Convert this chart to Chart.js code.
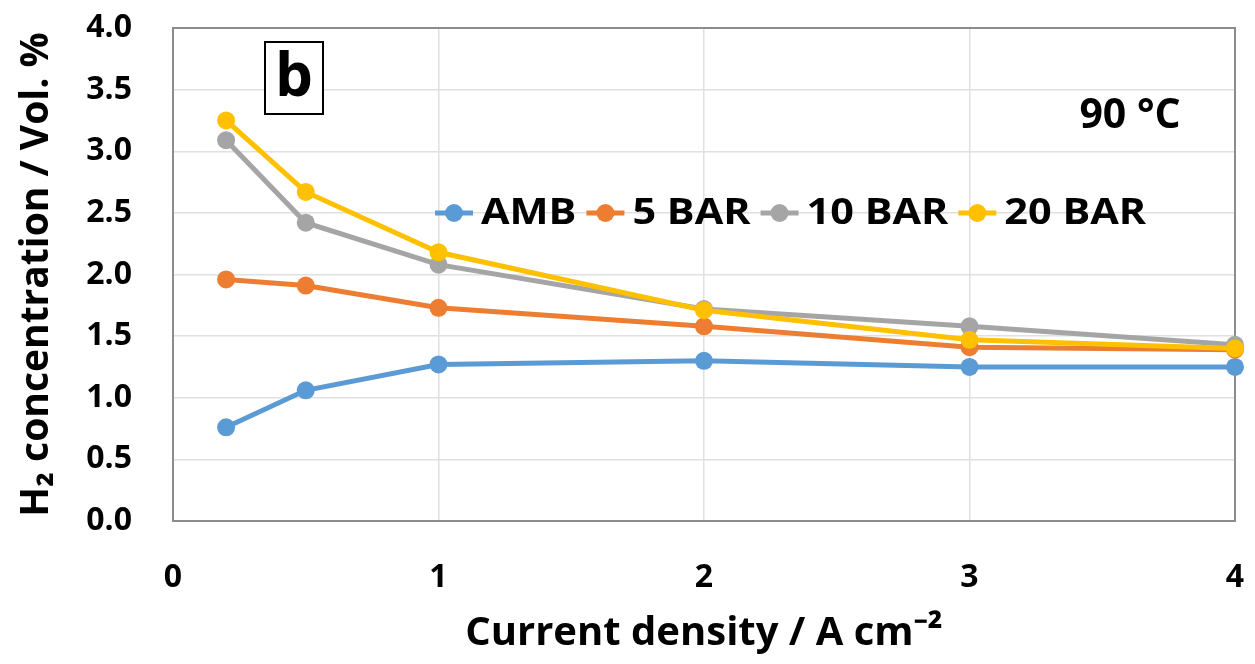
<!DOCTYPE html>
<html>
<head>
<meta charset="utf-8">
<script src="https://cdn.jsdelivr.net/npm/chart.js@4.4.0/dist/chart.umd.min.js"></script>
<style>
  html, body { margin: 0; padding: 0; background: #fff; }
  #wrap { width: 1255px; height: 664px; }
</style>
</head>
<body>
<div id="wrap"><canvas id="c" width="1255" height="664"></canvas></div>
<script>
// Current density (A cm-2) and H2 concentration (Vol. %)
const currentDensity = [0.2, 0.5, 1, 2, 3, 4];
const amb   = [0.76, 1.06, 1.27, 1.30, 1.25, 1.25];
const bar5  = [1.96, 1.91, 1.73, 1.58, 1.41, 1.39];
const bar10 = [3.09, 2.42, 2.08, 1.72, 1.58, 1.43];
const bar20 = [3.25, 2.67, 2.18, 1.71, 1.47, 1.40];
const seriesNames = ['AMB', '5 BAR', '10 BAR', '20 BAR'];
const seriesColors = ['#5B9BD5', '#ED7D31', '#A5A5A5', '#FFC000'];
const xTickValues = [0, 1, 2, 3, 4];
const yTickValues = [0, 0.5, 1, 1.5, 2, 2.5, 3, 3.5, 4];
const panelLabel = 'b';
const tempLabel = '90 °C';

const allSeries = [amb, bar5, bar10, bar20];
const datasets = allSeries.map((vals, i) => ({
    label: seriesNames[i],
    data: vals.map((v, k) => ({x: currentDensity[k], y: v})),
    borderColor: seriesColors[i],
    backgroundColor: seriesColors[i],
    pointBackgroundColor: seriesColors[i],
    pointBorderWidth: 0,
    pointRadius: 9,
    borderWidth: 5,
    order: allSeries.length - i,
    clip: false
}));

// grey frame round the plot area
const frame = {
    id: 'frame',
    beforeDatasetsDraw(chart) {
        const {ctx, chartArea: a} = chart;
        ctx.save();
        ctx.strokeStyle = '#8c8c8c';
        ctx.lineWidth = 2;
        ctx.strokeRect(a.left, a.top, a.right - a.left, a.bottom - a.top);
        ctx.restore();
    }
};

// legend inside the plot, panel letter and temperature
const notes = {
    id: 'notes',
    afterDatasetsDraw(chart) {
        const ctx = chart.ctx;
        const stretch = 1.15;
        ctx.save();
        ctx.font = 'bold 36px "Open Sans", sans-serif';
        ctx.textBaseline = 'middle';
        let x = 435;
        const y = 213;
        seriesNames.forEach((name, i) => {
            ctx.strokeStyle = seriesColors[i];
            ctx.lineWidth = 5;
            ctx.beginPath();
            ctx.moveTo(x, y);
            ctx.lineTo(x + 38, y);
            ctx.stroke();
            ctx.fillStyle = seriesColors[i];
            ctx.beginPath();
            ctx.arc(x + 19, y, 9, 0, Math.PI * 2);
            ctx.fill();
            x += 46;
            ctx.fillStyle = '#000';
            ctx.save();
            ctx.translate(x, y + 1);
            ctx.scale(stretch, 1);
            ctx.fillText(name, 0, 0);
            ctx.restore();
            x += ctx.measureText(name).width * stretch + 10;
        });
        // panel letter in a box
        ctx.fillStyle = '#fff';
        ctx.fillRect(265, 42, 58, 72);
        ctx.strokeStyle = '#000';
        ctx.lineWidth = 2;
        ctx.strokeRect(265, 42, 58, 72);
        ctx.fillStyle = '#000';
        ctx.font = 'bold 60px "Open Sans", sans-serif';
        ctx.textAlign = 'center';
        ctx.fillText(panelLabel, 294, 79);
        // temperature
        ctx.font = 'bold 41px "Open Sans", sans-serif';
        ctx.fillText(tempLabel, 1130, 116);
        ctx.restore();
    }
};

const gridColor = ctx => (ctx.tick && (ctx.tick.value === 0 || ctx.tick.value === 4)) ? 'rgba(0,0,0,0)' : '#e0e0e0';

new Chart(document.getElementById('c'), {
    type: 'line',
    data: {datasets},
    options: {
        responsive: false,
        animation: false,
        layout: {padding: {top: 28, right: 20, bottom: 0, left: 0}},
        plugins: {legend: {display: false}, tooltip: {enabled: false}},
        scales: {
            x: {
                type: 'linear',
                min: 0, max: 4,
                afterFit(scale) {
                    scale.height = 143;
                    scale.paddingLeft = 0;
                    scale.paddingRight = 0;
                },
                afterBuildTicks(scale) { scale.ticks = xTickValues.map(v => ({value: v})); },
                grid: {color: gridColor, lineWidth: 1.5, drawTicks: false},
                border: {display: false},
                ticks: {
                    padding: 41,
                    color: '#000',
                    font: {family: 'Open Sans', weight: 'bold', size: 32, lineHeight: 1},
                    callback: v => String(v)
                },
                title: {
                    display: true,
                    text: 'Current density / A cm⁻²',
                    color: '#000',
                    font: {family: 'Open Sans', weight: 'bold', size: 40, lineHeight: 1},
                    padding: {top: 0, bottom: 10}
                }
            },
            y: {
                min: 0, max: 4,
                afterFit(scale) {
                    scale.width = 173;
                    scale.paddingTop = 0;
                    scale.paddingBottom = 0;
                },
                afterBuildTicks(scale) { scale.ticks = yTickValues.map(v => ({value: v})); },
                grid: {color: gridColor, lineWidth: 1.5, drawTicks: false},
                border: {display: false},
                ticks: {
                    padding: 41,
                    color: '#000',
                    font: {family: 'Open Sans', weight: 'bold', size: 32, lineHeight: 1},
                    callback: v => v.toFixed(1)
                },
                title: {
                    display: true,
                    text: 'H₂ concentration / Vol. %',
                    color: '#000',
                    font: {family: 'Open Sans', weight: 'bold', size: 39, lineHeight: 1},
                    padding: {top: 17, bottom: 0}
                }
            }
        }
    },
    plugins: [frame, notes]
});
</script>
</body>
</html>
